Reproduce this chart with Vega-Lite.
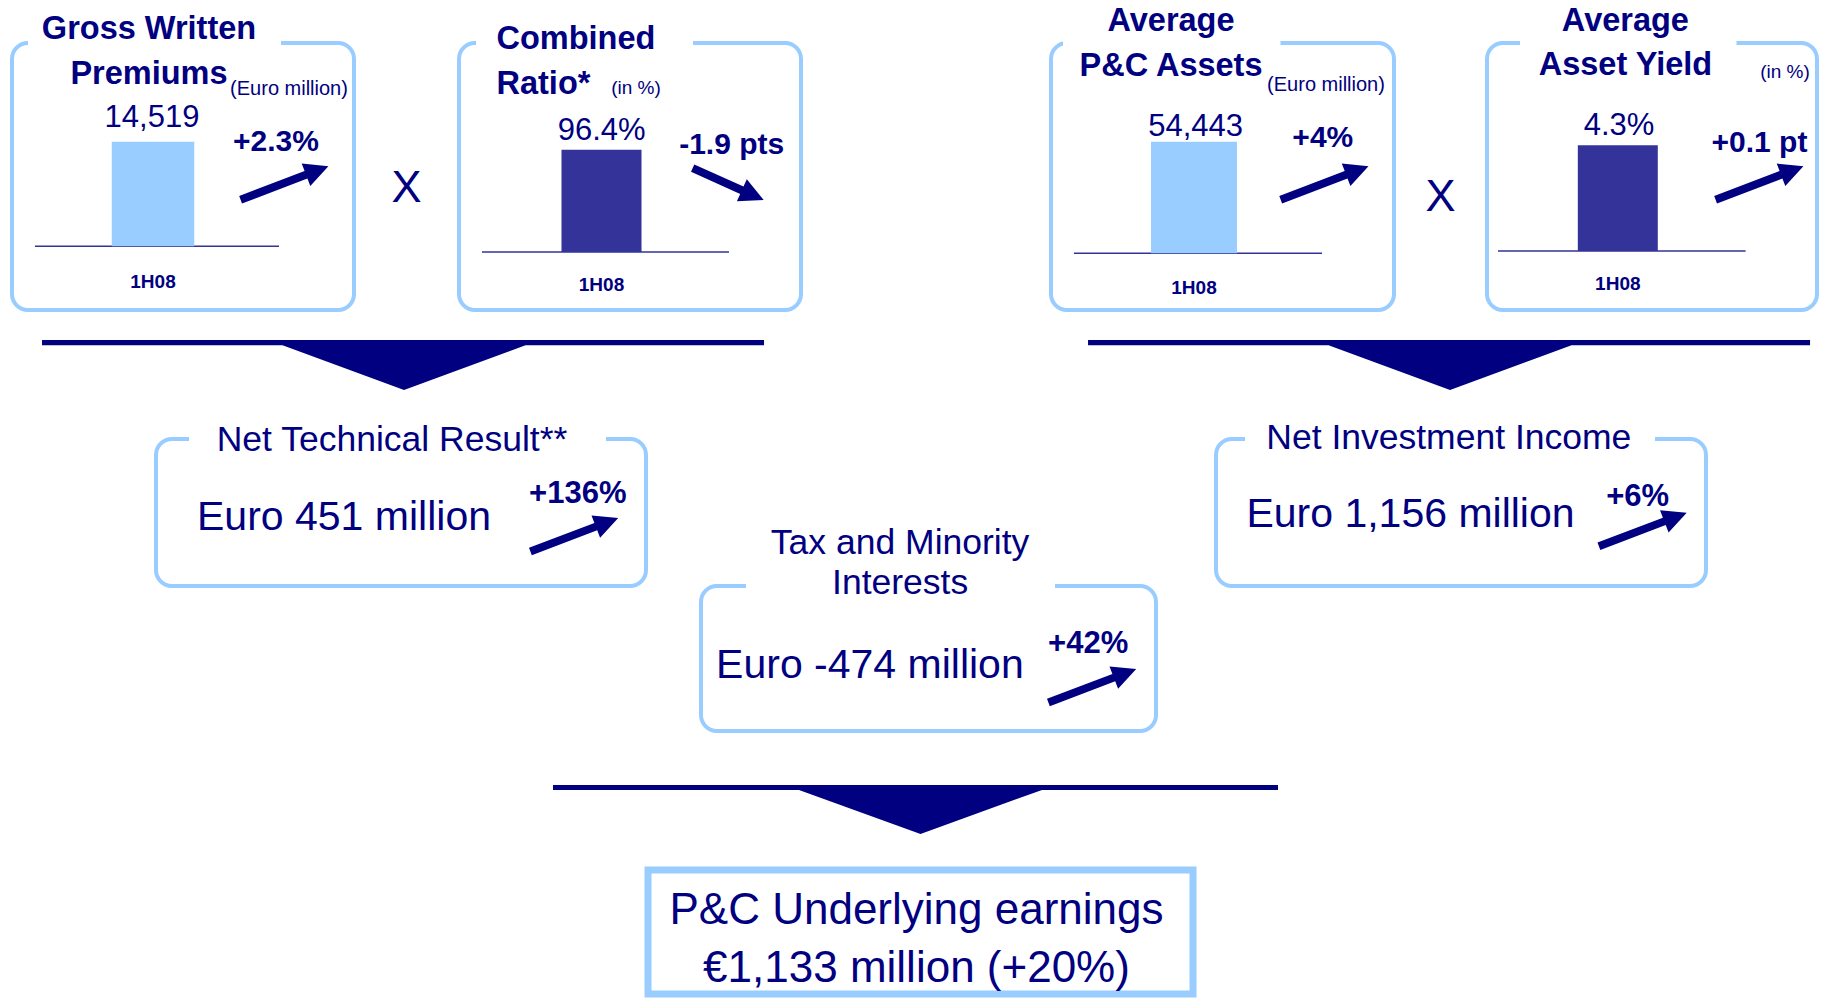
{
  "$schema": "https://vega.github.io/schema/vega-lite/v6.json",
  "padding": {"left": 10, "top": 2, "right": 0, "bottom": 0},
  "background": "white",
  "config": {
    "font": "Liberation Sans",
    "view": {"stroke": null},
    "text": {"font": "Liberation Sans"},
    "axis": {"labelFont": "Liberation Sans"}
  },
  "datasets": {
    "cards": [
      {"metric": "Gross Written Premiums", "heading": ["Gross Written", "Premiums"], "unit": "(Euro million)", "kind": "amount", "period": "1H08", "value": 14519, "label": "14,519", "change": 2.3, "changeLabel": "+2.3%"},
      {"metric": "Combined Ratio", "heading": ["Combined", "Ratio*"], "unit": "(in %)", "kind": "rate", "period": "1H08", "value": 96.4, "label": "96.4%", "change": -1.9, "changeLabel": "-1.9 pts"},
      {"metric": "Average P&C Assets", "heading": ["Average", "P&C Assets"], "unit": "(Euro million)", "kind": "amount", "period": "1H08", "value": 54443, "label": "54,443", "change": 4, "changeLabel": "+4%"},
      {"metric": "Average Asset Yield", "heading": ["Average", "Asset Yield"], "unit": "(in %)", "kind": "rate", "period": "1H08", "value": 4.3, "label": "4.3%", "change": 0.1, "changeLabel": "+0.1 pt"}
    ],
    "operators": [
      {"between": "Premiums x Ratio", "symbol": "X"},
      {"between": "Assets x Yield", "symbol": "X"}
    ],
    "results": [
      {"metric": "Net Technical Result", "heading": ["Net Technical Result**"], "value": 451, "label": "Euro 451 million", "change": 136, "changeLabel": "+136%"},
      {"metric": "Net Investment Income", "heading": ["Net Investment Income"], "value": 1156, "label": "Euro 1,156 million", "change": 6, "changeLabel": "+6%"},
      {"metric": "Tax and Minority Interests", "heading": ["Tax and Minority", "Interests"], "value": -474, "label": "Euro -474 million", "change": 42, "changeLabel": "+42%"}
    ],
    "flows": [
      {"flow": "Net Technical Result", "stage": "components"},
      {"flow": "Net Investment Income", "stage": "components"},
      {"flow": "P&C Underlying earnings", "stage": "total"}
    ],
    "total": [
      {"metric": "P&C Underlying earnings", "value": 1133, "change": 20, "lines": ["P&C Underlying earnings", "€1,133 million (+20%)"]}
    ]
  },
  "bounds": "flush",
  "spacing": 0,
  "vconcat": [
    {
      "bounds": "flush",
      "spacing": 0,
      "hconcat": [
        {
          "width": 342, "height": 267,
          "view": {"stroke": "#99ccff", "strokeWidth": 4, "cornerRadius": 16},
          "data": {"name": "cards"},
          "transform": [{"filter": "datum.metric === 'Gross Written Premiums'"}],
          "layer": [
            {"mark": {"type": "point", "shape": "M-155,-138.5L98,-138.5L98,-128.5L-155,-128.5Z", "size": 4, "filled": true, "color": "white", "opacity": 1, "strokeWidth": 0}, "encoding": {}},
            {"mark": {"type": "bar", "fill": "#333399", "stroke": "#333399", "strokeWidth": 1.5},
             "encoding": {
               "x": {"field": "period", "type": "nominal", "scale": {"type": "band", "paddingInner": 0, "paddingOuter": 0.2008, "align": 0.2347}, "axis": {"title": null, "domain": false, "ticks": false, "tickSize": 0, "grid": false, "labelAngle": 0, "labelBaseline": "middle", "labelPadding": 35, "offset": -63.8, "labelFontSize": 19, "labelFontWeight": "bold", "labelColor": "#000080", "labelOffset": -4}},
               "y": {"datum": 0, "type": "quantitative", "scale": {"domain": [-8864, 28232], "nice": false, "zero": false}, "axis": null}}},
            {"mark": {"type": "bar", "width": {"band": 0.338}, "xOffset": -4},
             "encoding": {
               "x": {"field": "period", "type": "nominal", "scale": {"type": "band", "paddingInner": 0, "paddingOuter": 0.2008, "align": 0.2347}, "axis": {"title": null, "domain": false, "ticks": false, "tickSize": 0, "grid": false, "labelAngle": 0, "labelBaseline": "middle", "labelPadding": 35, "offset": -63.8, "labelFontSize": 19, "labelFontWeight": "bold", "labelColor": "#000080", "labelOffset": -4}},
               "y": {"field": "value", "type": "quantitative", "scale": {"domain": [-8864, 28232], "nice": false, "zero": false}, "axis": null},
               "color": {"field": "kind", "type": "nominal", "scale": {"domain": ["amount", "rate"], "range": ["#99ccff", "#333399"]}, "legend": null}}},
            {"mark": {"type": "text", "fontSize": 31, "color": "#000080", "baseline": "middle", "dx": -5, "dy": -23.9},
             "encoding": {
               "x": {"field": "period", "type": "nominal", "scale": {"type": "band", "paddingInner": 0, "paddingOuter": 0.2008, "align": 0.2347}, "axis": {"title": null, "domain": false, "ticks": false, "tickSize": 0, "grid": false, "labelAngle": 0, "labelBaseline": "middle", "labelPadding": 35, "offset": -63.8, "labelFontSize": 19, "labelFontWeight": "bold", "labelColor": "#000080", "labelOffset": -4}},
               "y": {"field": "value", "type": "quantitative", "scale": {"domain": [-8864, 28232], "nice": false, "zero": false}, "axis": null},
               "text": {"field": "label"}}},
            {"mark": {"type": "text", "fontSize": 32.5, "fontWeight": "bold", "color": "#000080", "align": "center", "baseline": "middle", "lineHeight": 45, "dx": -34, "dy": -147.5}, "encoding": {"text": {"field": "heading"}}},
            {"mark": {"type": "text", "fontSize": 20, "color": "#000080", "baseline": "middle", "dx": 106, "dy": -87.3}, "encoding": {"text": {"field": "unit"}}},
            {"mark": {"type": "text", "fontSize": 30, "fontWeight": "bold", "color": "#000080", "baseline": "middle", "dx": 93, "dy": -34.3}, "encoding": {"text": {"field": "changeLabel"}}},
            {"mark": {"type": "point", "shape": "M56.2,19.5L121.6,-5.5L118.7,-12.9L145.4,-10.3L127.3,9.5L124.4,2L59,27Z", "size": 4, "filled": true, "color": "#000080", "opacity": 1, "strokeWidth": 0}, "encoding": {}}
          ]
        },
        {
          "width": 105, "height": 267,
          "data": {"name": "operators"},
          "transform": [{"filter": "datum.between === 'Premiums x Ratio'"}],
          "mark": {"type": "text", "fontSize": 45, "color": "#000080", "baseline": "middle", "dy": 11.9},
          "encoding": {"text": {"field": "symbol"}}
        },
        {
          "width": 342, "height": 267,
          "view": {"stroke": "#99ccff", "strokeWidth": 4, "cornerRadius": 16},
          "data": {"name": "cards"},
          "transform": [{"filter": "datum.metric === 'Combined Ratio'"}],
          "layer": [
            {"mark": {"type": "point", "shape": "M-154,-138.5L63,-138.5L63,-128.5L-154,-128.5Z", "size": 4, "filled": true, "color": "white", "opacity": 1, "strokeWidth": 0}, "encoding": {}},
            {"mark": {"type": "bar", "fill": "#333399", "stroke": "#333399", "strokeWidth": 1.5},
             "encoding": {
               "x": {"field": "period", "type": "nominal", "scale": {"type": "band", "paddingInner": 0, "paddingOuter": 0.1923, "align": 0.2421}, "axis": {"title": null, "domain": false, "ticks": false, "tickSize": 0, "grid": false, "labelAngle": 0, "labelBaseline": "middle", "labelPadding": 32.7, "offset": -58, "labelFontSize": 19, "labelFontWeight": "bold", "labelColor": "#000080", "labelOffset": -4}},
               "y": {"datum": 0, "type": "quantitative", "scale": {"domain": [-54.71, 197.13], "nice": false, "zero": false}, "axis": null}}},
            {"mark": {"type": "bar", "width": {"band": 0.324}, "xOffset": -4},
             "encoding": {
               "x": {"field": "period", "type": "nominal", "scale": {"type": "band", "paddingInner": 0, "paddingOuter": 0.1923, "align": 0.2421}, "axis": {"title": null, "domain": false, "ticks": false, "tickSize": 0, "grid": false, "labelAngle": 0, "labelBaseline": "middle", "labelPadding": 32.7, "offset": -58, "labelFontSize": 19, "labelFontWeight": "bold", "labelColor": "#000080", "labelOffset": -4}},
               "y": {"field": "value", "type": "quantitative", "scale": {"domain": [-54.71, 197.13], "nice": false, "zero": false}, "axis": null},
               "color": {"field": "kind", "type": "nominal", "scale": {"domain": ["amount", "rate"], "range": ["#99ccff", "#333399"]}, "legend": null}}},
            {"mark": {"type": "text", "fontSize": 31, "color": "#000080", "baseline": "middle", "dx": -3.9, "dy": -19},
             "encoding": {
               "x": {"field": "period", "type": "nominal", "scale": {"type": "band", "paddingInner": 0, "paddingOuter": 0.1923, "align": 0.2421}, "axis": {"title": null, "domain": false, "ticks": false, "tickSize": 0, "grid": false, "labelAngle": 0, "labelBaseline": "middle", "labelPadding": 32.7, "offset": -58, "labelFontSize": 19, "labelFontWeight": "bold", "labelColor": "#000080", "labelOffset": -4}},
               "y": {"field": "value", "type": "quantitative", "scale": {"domain": [-54.71, 197.13], "nice": false, "zero": false}, "axis": null},
               "text": {"field": "label"}}},
            {"mark": {"type": "text", "fontSize": 32.5, "fontWeight": "bold", "color": "#000080", "align": "left", "baseline": "middle", "lineHeight": 45.3, "dx": -133.5, "dy": -137.3}, "encoding": {"text": {"field": "heading"}}},
            {"mark": {"type": "text", "fontSize": 19, "color": "#000080", "baseline": "middle", "dx": 6, "dy": -88.3}, "encoding": {"text": {"field": "unit"}}},
            {"mark": {"type": "text", "fontSize": 30, "fontWeight": "bold", "color": "#000080", "baseline": "middle", "dx": 101.7, "dy": -31.9}, "encoding": {"text": {"field": "changeLabel"}}},
            {"mark": {"type": "point", "shape": "M64.3,-12.1L113.5,10.1L116.8,2.8L133.7,23.6L106.9,24.7L110.2,17.4L61,-4.8Z", "size": 4, "filled": true, "color": "#000080", "opacity": 1, "strokeWidth": 0}, "encoding": {}}
          ]
        },
        {"width": 250, "height": 267, "data": {"values": []}, "mark": {"type": "point", "opacity": 0}},
        {
          "width": 343, "height": 267,
          "view": {"stroke": "#99ccff", "strokeWidth": 4, "cornerRadius": 16},
          "data": {"name": "cards"},
          "transform": [{"filter": "datum.metric === 'Average P&C Assets'"}],
          "layer": [
            {"mark": {"type": "point", "shape": "M-159.5,-138.5L58,-138.5L58,-128.5L-159.5,-128.5Z", "size": 4, "filled": true, "color": "white", "opacity": 1, "strokeWidth": 0}, "encoding": {}},
            {"mark": {"type": "bar", "fill": "#333399", "stroke": "#333399", "strokeWidth": 1.5},
             "encoding": {
               "x": {"field": "period", "type": "nominal", "scale": {"type": "band", "paddingInner": 0, "paddingOuter": 0.1915, "align": 0.2421}, "axis": {"title": null, "domain": false, "ticks": false, "tickSize": 0, "grid": false, "labelAngle": 0, "labelBaseline": "middle", "labelPadding": 33.8, "offset": -56.8, "labelFontSize": 19, "labelFontWeight": "bold", "labelColor": "#000080", "labelOffset": -4}},
               "y": {"datum": 0, "type": "quantitative", "scale": {"domain": [-27734, 102637], "nice": false, "zero": false}, "axis": null}}},
            {"mark": {"type": "bar", "width": {"band": 0.347}, "xOffset": -4},
             "encoding": {
               "x": {"field": "period", "type": "nominal", "scale": {"type": "band", "paddingInner": 0, "paddingOuter": 0.1915, "align": 0.2421}, "axis": {"title": null, "domain": false, "ticks": false, "tickSize": 0, "grid": false, "labelAngle": 0, "labelBaseline": "middle", "labelPadding": 33.8, "offset": -56.8, "labelFontSize": 19, "labelFontWeight": "bold", "labelColor": "#000080", "labelOffset": -4}},
               "y": {"field": "value", "type": "quantitative", "scale": {"domain": [-27734, 102637], "nice": false, "zero": false}, "axis": null},
               "color": {"field": "kind", "type": "nominal", "scale": {"domain": ["amount", "rate"], "range": ["#99ccff", "#333399"]}, "legend": null}}},
            {"mark": {"type": "text", "fontSize": 31, "color": "#000080", "baseline": "middle", "dx": -2.4, "dy": -14.5},
             "encoding": {
               "x": {"field": "period", "type": "nominal", "scale": {"type": "band", "paddingInner": 0, "paddingOuter": 0.1915, "align": 0.2421}, "axis": {"title": null, "domain": false, "ticks": false, "tickSize": 0, "grid": false, "labelAngle": 0, "labelBaseline": "middle", "labelPadding": 33.8, "offset": -56.8, "labelFontSize": 19, "labelFontWeight": "bold", "labelColor": "#000080", "labelOffset": -4}},
               "y": {"field": "value", "type": "quantitative", "scale": {"domain": [-27734, 102637], "nice": false, "zero": false}, "axis": null},
               "text": {"field": "label"}}},
            {"mark": {"type": "text", "fontSize": 32.5, "fontWeight": "bold", "color": "#000080", "align": "center", "baseline": "middle", "lineHeight": 45.3, "dx": -51.5, "dy": -155.9}, "encoding": {"text": {"field": "heading"}}},
            {"mark": {"type": "text", "fontSize": 20, "color": "#000080", "baseline": "middle", "dx": 103.5, "dy": -91.7}, "encoding": {"text": {"field": "unit"}}},
            {"mark": {"type": "text", "fontSize": 30, "fontWeight": "bold", "color": "#000080", "baseline": "middle", "dx": 100.3, "dy": -38.9}, "encoding": {"text": {"field": "changeLabel"}}},
            {"mark": {"type": "point", "shape": "M56.8,19.5L122.2,-5.5L119.3,-12.9L146,-10.3L127.9,9.5L125,2L59.6,27Z", "size": 4, "filled": true, "color": "#000080", "opacity": 1, "strokeWidth": 0}, "encoding": {}}
          ]
        },
        {
          "width": 93, "height": 267,
          "data": {"name": "operators"},
          "transform": [{"filter": "datum.between === 'Assets x Yield'"}],
          "mark": {"type": "text", "fontSize": 45, "color": "#000080", "baseline": "middle", "dy": 20.1},
          "encoding": {"text": {"field": "symbol"}}
        },
        {
          "width": 330, "height": 267,
          "view": {"stroke": "#99ccff", "strokeWidth": 4, "cornerRadius": 16},
          "data": {"name": "cards"},
          "transform": [{"filter": "datum.metric === 'Average Asset Yield'"}],
          "layer": [
            {"mark": {"type": "point", "shape": "M-132,-138.5L84.5,-138.5L84.5,-128.5L-132,-128.5Z", "size": 4, "filled": true, "color": "white", "opacity": 1, "strokeWidth": 0}, "encoding": {}},
            {"mark": {"type": "bar", "fill": "#333399", "stroke": "#333399", "strokeWidth": 1.5},
             "encoding": {
               "x": {"field": "period", "type": "nominal", "scale": {"type": "band", "paddingInner": 0, "paddingOuter": 0.1664, "align": 0.1335}, "axis": {"title": null, "domain": false, "ticks": false, "tickSize": 0, "grid": false, "labelAngle": 0, "labelBaseline": "middle", "labelPadding": 32.6, "offset": -59.1, "labelFontSize": 19, "labelFontWeight": "bold", "labelColor": "#000080", "labelOffset": -4}},
               "y": {"datum": 0, "type": "quantitative", "scale": {"domain": [-2.404, 8.458], "nice": false, "zero": false}, "axis": null}}},
            {"mark": {"type": "bar", "width": {"band": 0.323}, "xOffset": -4},
             "encoding": {
               "x": {"field": "period", "type": "nominal", "scale": {"type": "band", "paddingInner": 0, "paddingOuter": 0.1664, "align": 0.1335}, "axis": {"title": null, "domain": false, "ticks": false, "tickSize": 0, "grid": false, "labelAngle": 0, "labelBaseline": "middle", "labelPadding": 32.6, "offset": -59.1, "labelFontSize": 19, "labelFontWeight": "bold", "labelColor": "#000080", "labelOffset": -4}},
               "y": {"field": "value", "type": "quantitative", "scale": {"domain": [-2.404, 8.458], "nice": false, "zero": false}, "axis": null},
               "color": {"field": "kind", "type": "nominal", "scale": {"domain": ["amount", "rate"], "range": ["#99ccff", "#333399"]}, "legend": null}}},
            {"mark": {"type": "text", "fontSize": 31, "color": "#000080", "baseline": "middle", "dx": -2.8, "dy": -19.1},
             "encoding": {
               "x": {"field": "period", "type": "nominal", "scale": {"type": "band", "paddingInner": 0, "paddingOuter": 0.1664, "align": 0.1335}, "axis": {"title": null, "domain": false, "ticks": false, "tickSize": 0, "grid": false, "labelAngle": 0, "labelBaseline": "middle", "labelPadding": 32.6, "offset": -59.1, "labelFontSize": 19, "labelFontWeight": "bold", "labelColor": "#000080", "labelOffset": -4}},
               "y": {"field": "value", "type": "quantitative", "scale": {"domain": [-2.404, 8.458], "nice": false, "zero": false}, "axis": null},
               "text": {"field": "label"}}},
            {"mark": {"type": "text", "fontSize": 32.5, "fontWeight": "bold", "color": "#000080", "align": "center", "baseline": "middle", "lineHeight": 44.1, "dx": -26.6, "dy": -155.9}, "encoding": {"text": {"field": "heading"}}},
            {"mark": {"type": "text", "fontSize": 19, "color": "#000080", "baseline": "middle", "dx": 133, "dy": -104.6}, "encoding": {"text": {"field": "unit"}}},
            {"mark": {"type": "text", "fontSize": 30, "fontWeight": "bold", "color": "#000080", "baseline": "middle", "dx": 107.5, "dy": -33.1}, "encoding": {"text": {"field": "changeLabel"}}},
            {"mark": {"type": "point", "shape": "M62.2,19.5L127.6,-5.5L124.7,-12.9L151.4,-10.3L133.3,9.5L130.4,2L65,27Z", "size": 4, "filled": true, "color": "#000080", "opacity": 1, "strokeWidth": 0}, "encoding": {}}
          ]
        }
      ]
    },
    {"width": 1, "height": 267, "data": {"values": []}, "mark": {"type": "point", "opacity": 0}},
    {
      "width": 1805, "height": 129,
      "data": {"name": "flows"},
      "transform": [{"filter": "datum.stage === 'components'"}],
      "mark": {"type": "point", "shape": "M-361,-34.6L361,-34.6L361,-29.2L122.5,-29.2L1,15.5L-120.5,-29.2L-361,-29.2Z", "size": 4, "filled": true, "color": "#000080", "opacity": 1, "strokeWidth": 0},
      "encoding": {
        "x": {"field": "flow", "type": "nominal", "scale": {"type": "point", "domain": ["Net Technical Result", "Net Investment Income"], "padding": 0.3628, "align": 0.5152}, "axis": null}
      }
    },
    {
      "bounds": "flush",
      "spacing": 0,
      "hconcat": [
        {"width": 144, "height": 147, "data": {"values": []}, "mark": {"type": "point", "opacity": 0}},
        {
          "width": 490, "height": 147,
          "view": {"stroke": "#99ccff", "strokeWidth": 4, "cornerRadius": 16},
          "data": {"name": "results"},
          "transform": [{"filter": "datum.metric === 'Net Technical Result'"}],
          "layer": [
            {"mark": {"type": "point", "shape": "M-212,-78.5L205,-78.5L205,-68.5L-212,-68.5Z", "size": 4, "filled": true, "color": "white", "opacity": 1, "strokeWidth": 0}, "encoding": {}},
            {"mark": {"type": "text", "fontSize": 35.5, "color": "#000080", "align": "center", "baseline": "middle", "dx": -9, "dy": -72.4}, "encoding": {"text": {"field": "heading[0]"}}},
            {"mark": {"type": "text", "fontSize": 41, "color": "#000080", "align": "center", "baseline": "middle", "dx": -57, "dy": 5.5}, "encoding": {"text": {"field": "label"}}},
            {"mark": {"type": "text", "fontSize": 31, "fontWeight": "bold", "color": "#000080", "align": "center", "baseline": "middle", "dx": 176.8, "dy": -18.3}, "encoding": {"text": {"field": "changeLabel"}}},
            {"mark": {"type": "point", "shape": "M128,35.3L193.4,10.4L190.5,2.9L217.2,5.5L199.1,25.3L196.2,17.8L130.8,42.8Z", "size": 4, "filled": true, "color": "#000080", "opacity": 1, "strokeWidth": 0}, "encoding": {}}
          ]
        },
        {"width": 570, "height": 147, "data": {"values": []}, "mark": {"type": "point", "opacity": 0}},
        {
          "width": 490, "height": 147,
          "view": {"stroke": "#99ccff", "strokeWidth": 4, "cornerRadius": 16},
          "data": {"name": "results"},
          "transform": [{"filter": "datum.metric === 'Net Investment Income'"}],
          "layer": [
            {"mark": {"type": "point", "shape": "M-216,-78.5L194,-78.5L194,-68.5L-216,-68.5Z", "size": 4, "filled": true, "color": "white", "opacity": 1, "strokeWidth": 0}, "encoding": {}},
            {"mark": {"type": "text", "fontSize": 35.5, "color": "#000080", "align": "center", "baseline": "middle", "dx": -12.2, "dy": -74.9}, "encoding": {"text": {"field": "heading[0]"}}},
            {"mark": {"type": "text", "fontSize": 41, "color": "#000080", "align": "center", "baseline": "middle", "dx": -50.5, "dy": 2.6}, "encoding": {"text": {"field": "label"}}},
            {"mark": {"type": "text", "fontSize": 31, "fontWeight": "bold", "color": "#000080", "align": "center", "baseline": "middle", "dx": 176.6, "dy": -15.9}, "encoding": {"text": {"field": "changeLabel"}}},
            {"mark": {"type": "point", "shape": "M136.5,30.1L201.9,5.2L199,-2.3L225.7,0.3L207.6,20.1L204.7,12.6L139.3,37.6Z", "size": 4, "filled": true, "color": "#000080", "opacity": 1, "strokeWidth": 0}, "encoding": {}}
          ]
        }
      ]
    },
    {"width": 1, "height": 147, "data": {"values": []}, "mark": {"type": "point", "opacity": 0}},
    {
      "bounds": "flush",
      "spacing": 0,
      "hconcat": [
        {"width": 689, "height": 145, "data": {"values": []}, "mark": {"type": "point", "opacity": 0}},
        {
          "width": 455, "height": 145,
          "view": {"stroke": "#99ccff", "strokeWidth": 4, "cornerRadius": 16},
          "data": {"name": "results"},
          "transform": [{"filter": "datum.metric === 'Tax and Minority Interests'"}],
          "layer": [
            {"mark": {"type": "point", "shape": "M-182.5,-77.5L126.5,-77.5L126.5,-67.5L-182.5,-67.5Z", "size": 4, "filled": true, "color": "white", "opacity": 1, "strokeWidth": 0}, "encoding": {}},
            {"mark": {"type": "text", "fontSize": 35.5, "color": "#000080", "align": "center", "baseline": "middle", "lineHeight": 39.5, "dx": -28.4, "dy": -115.5}, "encoding": {"text": {"field": "heading"}}},
            {"mark": {"type": "text", "fontSize": 41, "color": "#000080", "align": "center", "baseline": "middle", "dx": -58.6, "dy": 7.6}, "encoding": {"text": {"field": "label"}}},
            {"mark": {"type": "text", "fontSize": 31, "fontWeight": "bold", "color": "#000080", "align": "center", "baseline": "middle", "dx": 159.7, "dy": -14.4}, "encoding": {"text": {"field": "changeLabel"}}},
            {"mark": {"type": "point", "shape": "M118.5,40.3L183.9,15.4L181,7.9L207.7,10.5L189.6,30.3L186.7,22.8L121.3,47.8Z", "size": 4, "filled": true, "color": "#000080", "opacity": 1, "strokeWidth": 0}, "encoding": {}}
          ]
        }
      ]
    },
    {"width": 1, "height": 145, "data": {"values": []}, "mark": {"type": "point", "opacity": 0}},
    {
      "width": 1805, "height": 139,
      "data": {"name": "flows"},
      "transform": [{"filter": "datum.stage === 'total'"}],
      "mark": {"type": "point", "shape": "M-361.5,-15.6L363.5,-15.6L363.5,-10.6L127.5,-10.6L6,33.5L-115.5,-10.6L-361.5,-10.6Z", "size": 4, "filled": true, "color": "#000080", "opacity": 1, "strokeWidth": 0},
      "encoding": {}
    },
    {
      "bounds": "flush",
      "spacing": 0,
      "hconcat": [
        {"width": 636, "height": 124, "data": {"values": []}, "mark": {"type": "point", "opacity": 0}},
        {
          "width": 545, "height": 124,
          "view": {"stroke": "#99ccff", "strokeWidth": 7},
          "data": {"name": "total"},
          "mark": {"type": "text", "fontSize": 44, "color": "#000080", "align": "center", "baseline": "middle", "lineHeight": 58, "dx": -4, "dy": -21.5},
          "encoding": {"text": {"field": "lines"}}
        }
      ]
    },
    {"width": 1, "height": 124, "data": {"values": []}, "mark": {"type": "point", "opacity": 0}}
  ]
}
